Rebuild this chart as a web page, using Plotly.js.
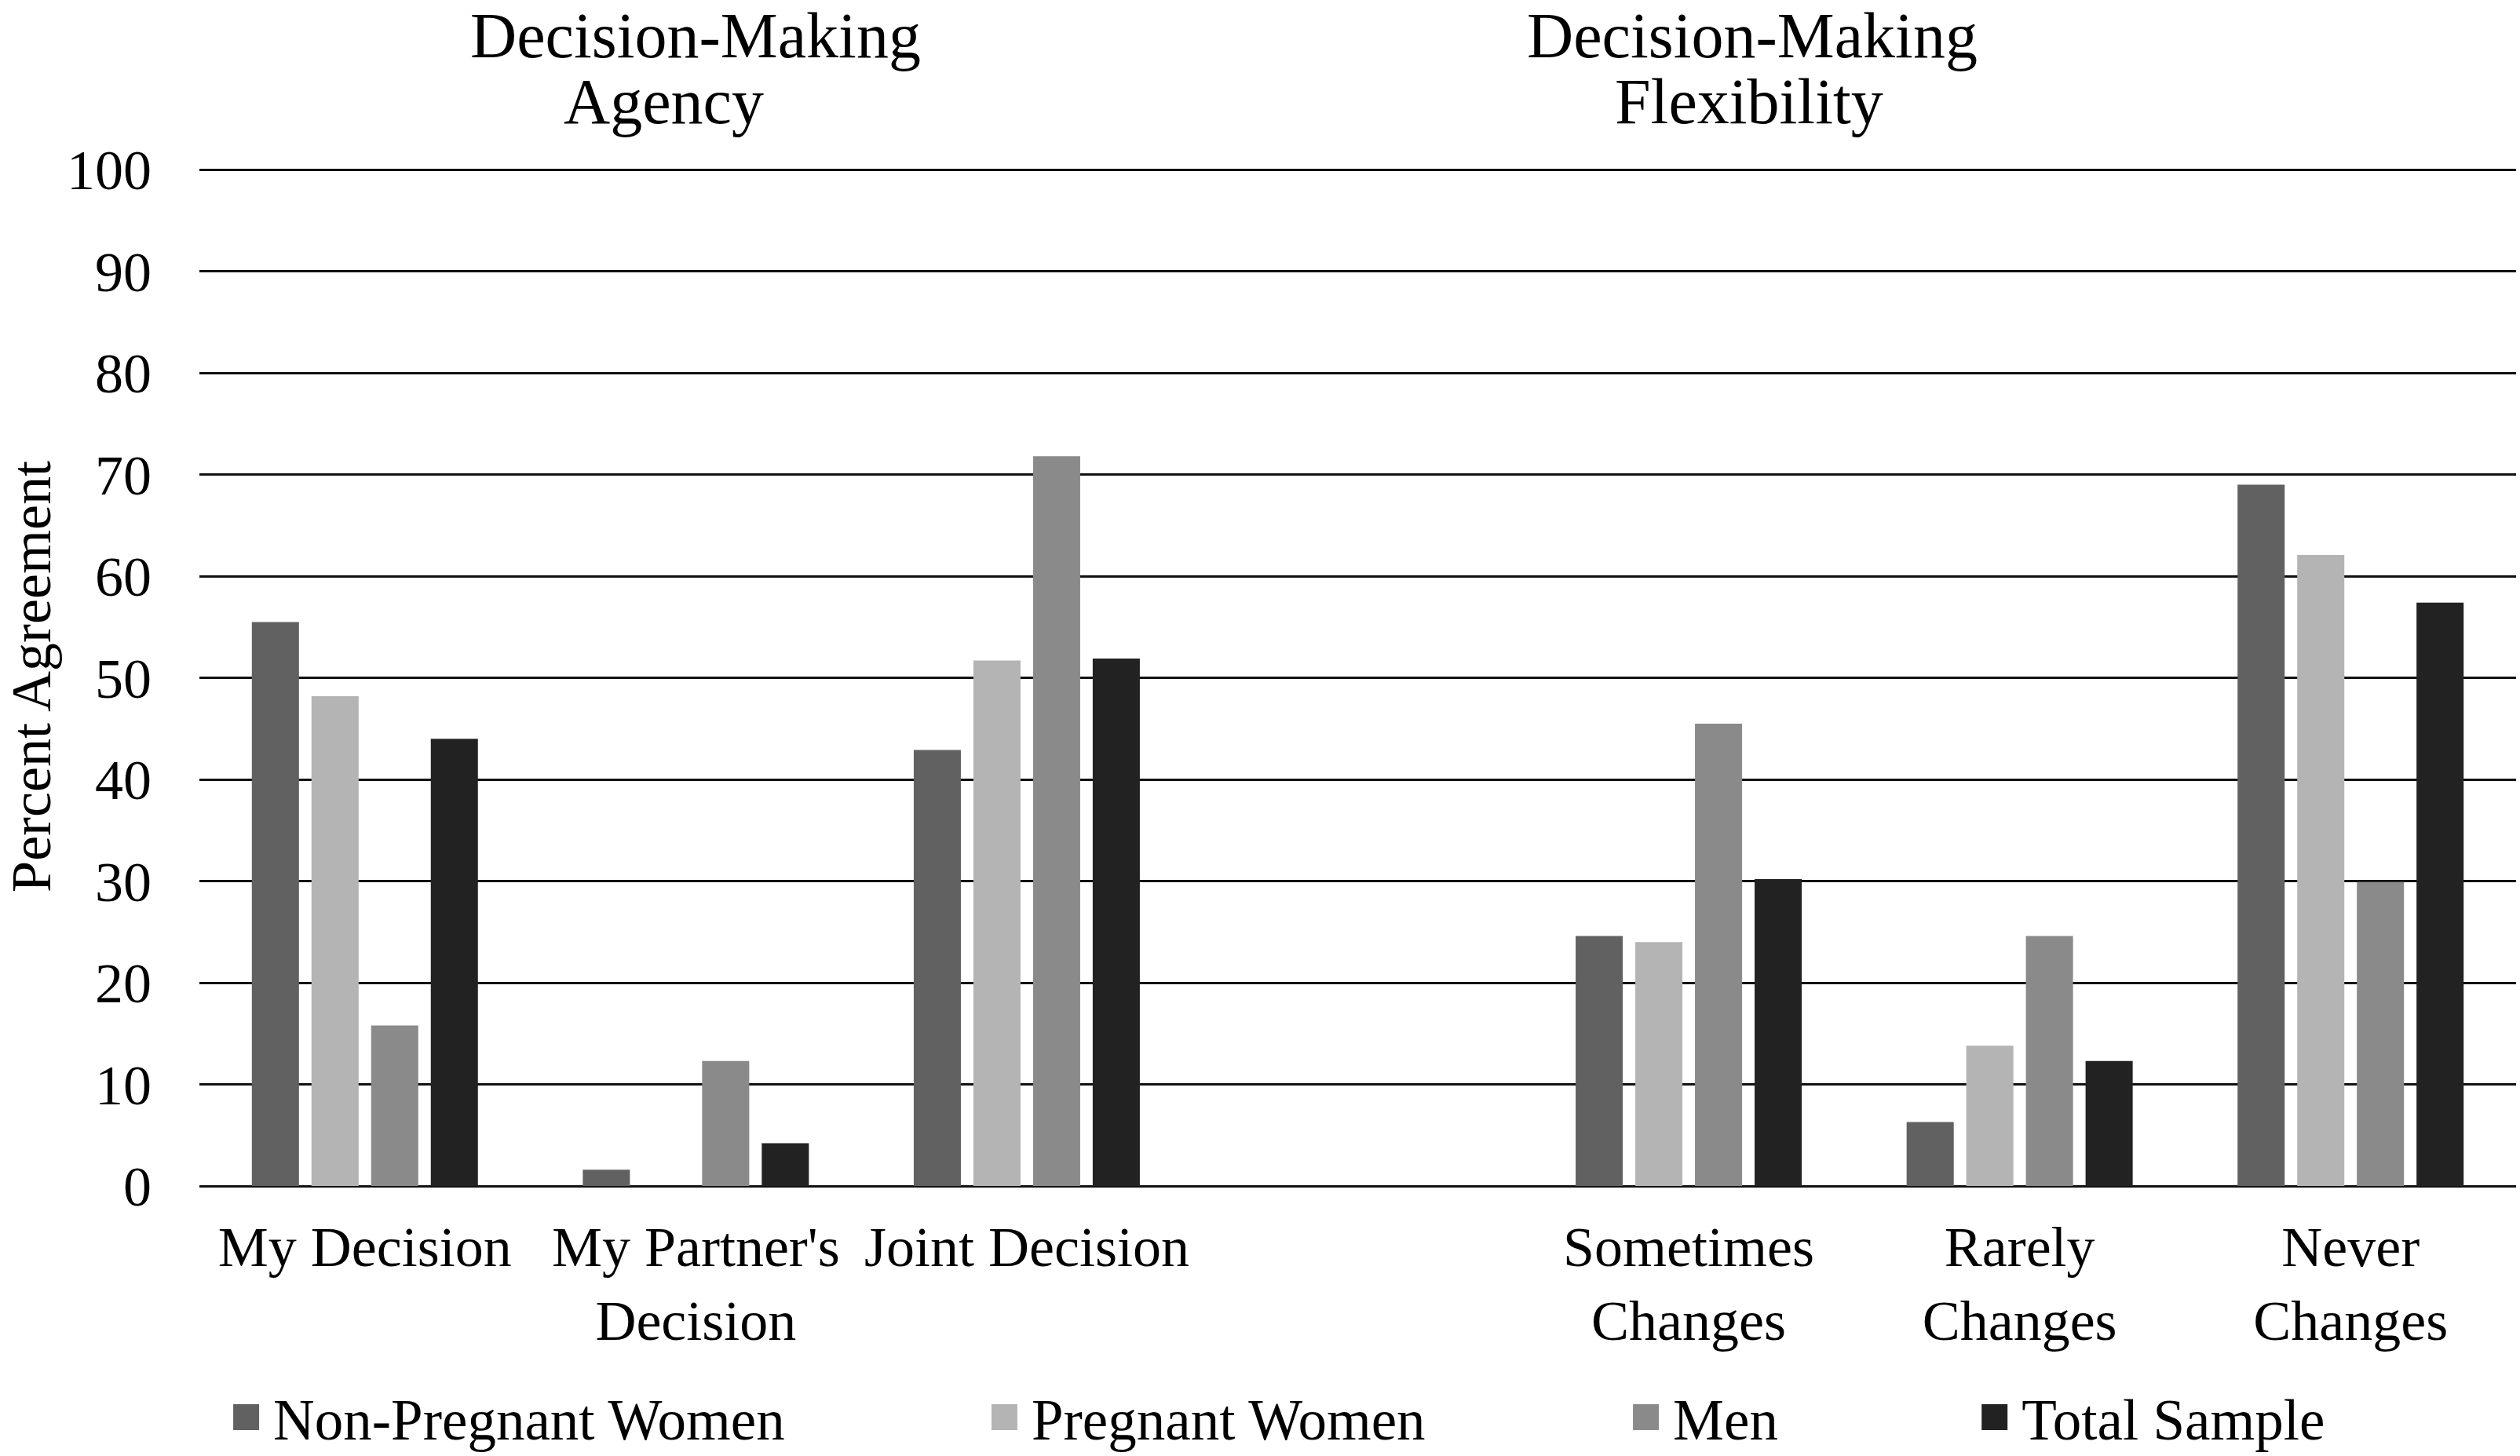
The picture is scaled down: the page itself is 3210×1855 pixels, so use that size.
<!DOCTYPE html>
<html>
<head>
<meta charset="utf-8">
<script src="https://cdn.plot.ly/plotly-3.0.1.min.js"></script>
<style>
  html, body { margin: 0; padding: 0; background: #ffffff; }
  #chart { width: 3210px; height: 1855px; }
</style>
</head>
<body>
<div id="chart"></div>
<script>
// ---- data ----
const categories = ["My Decision", "My Partner's Decision", "Joint Decision", " ", "Sometimes Changes", "Rarely Changes", "Never Changes"];
const tickLabels = ["My Decision", "My Partner's<br>Decision", "Joint Decision", "", "Sometimes<br>Changes", "Rarely<br>Changes", "Never<br>Changes"];
const seriesNames = ["Non-Pregnant Women", "Pregnant Women", "Men", "Total Sample"];
const nonPregnantWomen = [55.5, 1.6, 42.9, null, 24.6, 6.3, 69.0];
const pregnantWomen    = [48.2, 0.0, 51.7, null, 24.0, 13.8, 62.1];
const men              = [15.8, 12.3, 71.8, null, 45.5, 24.6, 29.9];
const totalSample      = [44.0, 4.2, 51.9, null, 30.2, 12.3, 57.4];
const yTicks = [0, 10, 20, 30, 40, 50, 60, 70, 80, 90, 100];
const groupTitles = [["Decision-Making", "Agency"], ["Decision-Making", "Flexibility"]];

// ---- styling ----
const FONT = "'Liberation Serif', 'Times New Roman', Times, serif";
const colors = ["#616161", "#b4b4b4", "#8a8a8a", "#222222"];
const seriesValues = [nonPregnantWomen, pregnantWomen, men, totalSample];
const legendIds = ["legend", "legend2", "legend3", "legend4"];
const legendX = [0.0085, 0.3358, 0.6127, 0.7632];

const traces = seriesValues.map((vals, i) => ({
  type: "bar",
  name: seriesNames[i],
  x: categories,
  y: vals,
  marker: { color: colors[i], line: { width: 0 } },
  legend: legendIds[i],
  hoverinfo: "skip"
}));

const legendCommon = {
  orientation: "h",
  xanchor: "left",
  yanchor: "middle",
  y: -0.227,
  font: { family: FONT, size: 73, color: "#000000" },
  itemwidth: 59,
  bgcolor: "rgba(0,0,0,0)",
  borderwidth: 0
};

const layout = {
  width: 3210,
  height: 1855,
  paper_bgcolor: "#ffffff",
  plot_bgcolor: "#ffffff",
  margin: { l: 254, r: 5, t: 213, b: 344, pad: 0, autoexpand: false },
  barmode: "group",
  bargap: 0.279,
  bargroupgap: 0.21,
  font: { family: FONT, color: "#000000" },
  showlegend: true,
  xaxis: {
    type: "category",
    categoryorder: "array",
    categoryarray: categories,
    tickvals: categories,
    ticktext: tickLabels,
    tickfont: { family: FONT, size: 72, color: "#000000" },
    ticks: "",
    showgrid: false,
    showline: false,
    zeroline: false,
    ticklabelstandoff: 29,
    automargin: false,
    fixedrange: true
  },
  yaxis: {
    range: [0, 100.25],
    tickvals: yTicks,
    ticktext: yTicks.map(String),
    tickfont: { family: FONT, size: 72, color: "#000000" },
    ticks: "",
    showgrid: true,
    gridcolor: "#111111",
    gridwidth: 3,
    zeroline: true,
    zerolinecolor: "#111111",
    zerolinewidth: 3,
    showline: false,
    ticklabelstandoff: 60,
    automargin: true,
    fixedrange: true,
    title: { text: "Percent Agreement", font: { family: FONT, size: 72, color: "#000000" }, standoff: 14 }
  },
  annotations: [
    { text: groupTitles[0][0], x: 0.2142, y: 1.1287 },
    { text: groupTitles[0][1], x: 0.2006, y: 1.0647 },
    { text: groupTitles[1][0], x: 0.6703, y: 1.1287 },
    { text: groupTitles[1][1], x: 0.6689, y: 1.0647 }
  ].map(a => Object.assign({
    xref: "paper", yref: "paper", xanchor: "center", yanchor: "middle",
    showarrow: false, borderpad: 0, font: { family: FONT, size: 82, color: "#000000" }
  }, a))
};

legendIds.forEach((id, i) => {
  layout[id] = Object.assign({}, legendCommon, { x: legendX[i] });
});

Plotly.newPlot("chart", traces, layout, { staticPlot: true, displayModeBar: false }).then(() => {
  // enlarge the legend swatches to match the reference's square keys
  document.querySelectorAll("g.legendpoints path").forEach(p => {
    const t = p.getAttribute("transform") || "";
    p.setAttribute("transform", t + " scale(2.75)");
  });
});
</script>
</body>
</html>
